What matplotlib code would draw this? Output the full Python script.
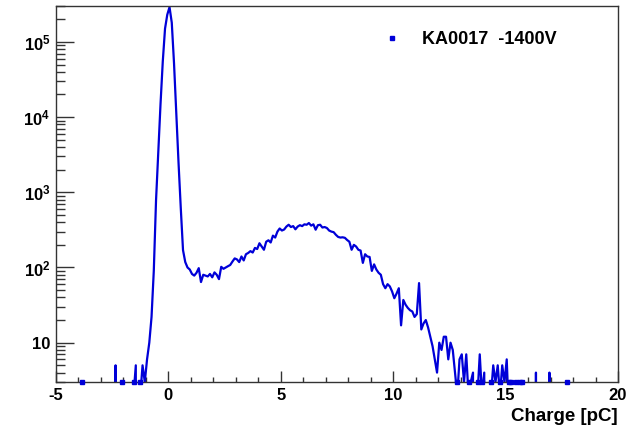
import numpy as np
import matplotlib.pyplot as plt
from matplotlib.ticker import LogLocator, FuncFormatter, MultipleLocator, NullFormatter
from matplotlib.lines import Line2D

plt.rcParams['font.family'] = ['Liberation Sans', 'DejaVu Sans']
plt.rcParams['font.weight'] = 'bold'
plt.rcParams['mathtext.fontset'] = 'custom'
plt.rcParams['mathtext.rm'] = 'Liberation Sans:bold'
plt.rcParams['mathtext.bf'] = 'Liberation Sans:bold'

# histogram: 250 bins of 0.1 pC from -5 to 20
x_lo, x_hi, nbins = -5.0, 20.0, 250
counts = [
    0, 0, 0, 0, 0, 0, 0, 0, 0, 0,                                   # -5.0 .. -4.0
    0, 1, 0, 0, 0, 0, 0, 0, 0, 0,                                   # -4.0 .. -3.0
    0, 0, 0, 0, 0, 0, 5, 0, 0, 1,                                   # -3.0 .. -2.0
    0, 0, 0, 0, 2, 5, 0, 2, 5, 3,                                   # -2.0 .. -1.0
    6, 10, 22, 90, 780, 3500, 15000, 55000, 150000, 230000,         # -1.0 .. 0.0
    290000, 180000, 52000, 11000, 2500, 620, 170, 118, 100, 94,     # 0.0 .. 1.0
    82, 78, 85, 98, 64, 80, 78, 76, 82, 74,                         # 1 .. 2
    86, 80, 70, 102, 96, 100, 104, 108, 120, 132,                   # 2 .. 3
    128, 118, 140, 124, 150, 156, 165, 158, 182, 176,               # 3 .. 4
    210, 190, 172, 220, 230, 215, 265, 250, 300, 330,               # 4 .. 5
    310, 320, 350, 370, 345, 355, 322, 350, 365, 355,               # 5 .. 6
    375, 370, 390, 360, 375, 318, 365, 370, 340, 345,               # 6 .. 7
    335, 310, 300, 295, 272, 255, 250, 252, 248, 232,               # 7 .. 8
    220, 172, 200, 190, 172, 168, 115, 150, 140, 138,               # 8 .. 9
    90, 110, 94, 85, 80, 60, 53, 60, 56, 48,                        # 9 .. 10
    39, 45, 53, 17, 37, 32, 29, 27, 26, 22,                         # 10 .. 11
    24, 62, 15, 18, 20, 16, 12, 9, 6, 4,                            # 11 .. 12
    10, 8, 12, 12, 6, 10, 8, 4, 2, 6,                               # 12 .. 13
    7, 3, 7, 2, 3, 4, 0, 2, 7, 2,                                   # 13 .. 14
    4, 0, 0, 2, 5, 3, 5, 2, 5, 3,                                   # 14 .. 15
    6, 1, 1, 0, 1, 0, 1, 1, 0, 0,                                   # 15 .. 16
    0, 0, 0, 4, 0, 0, 0, 0, 0, 4,                                   # 16 .. 17
    0, 0, 0, 0, 0, 0, 0, 1, 0, 0,                                   # 17 .. 18
    0, 0, 0, 0, 0, 0, 0, 0, 0, 0,                                   # 18 .. 19
    0, 0, 0, 0, 0, 0, 0, 0, 0, 0,                                   # 19 .. 20
]
label = 'KA0017  -1400V'
y_min, y_max = 3, 3e5

counts = np.array(counts, dtype=float)
edges = np.linspace(x_lo, x_hi, nbins + 1)
centers = 0.5 * (edges[:-1] + edges[1:])
blue = '#0000d8'

fig = plt.figure(figsize=(6.43, 4.25), dpi=100)
ax = fig.add_axes([56/643, 1 - 382/425, 562/643, 376/425])

ax.plot(centers, counts, color=blue, lw=1.6)
# bins below the axis minimum show up as small marks on the frame
low = (counts > 0) & (counts < y_min)
ax.plot(centers[low], np.full(low.sum(), y_min), ls='none', marker='s', ms=2.2,
        color=blue, clip_on=False, zorder=3)

ax.set_yscale('log')
ax.set_xlim(x_lo, x_hi)
ax.set_ylim(y_min, y_max)

ax.xaxis.set_major_locator(MultipleLocator(5))
ax.xaxis.set_minor_locator(MultipleLocator(1))
ax.yaxis.set_major_locator(LogLocator(base=10))
ax.yaxis.set_minor_locator(LogLocator(base=10, subs=np.arange(2, 10)))
ax.yaxis.set_minor_formatter(NullFormatter())


def ylab(v, pos):
    n = int(round(np.log10(v)))
    if n == 1:
        return '10'
    return r'$\mathbf{10^{%d}}$' % n


ax.yaxis.set_major_formatter(FuncFormatter(ylab))
ax.xaxis.set_major_formatter(FuncFormatter(lambda v, p: '%d' % v))

ax.tick_params(axis='x', which='major', direction='in', length=8, width=1, labelsize=12, pad=4)
ax.tick_params(axis='x', which='minor', direction='in', length=3.8, width=1)
ax.tick_params(axis='y', which='major', direction='in', length=13, width=1, labelsize=12, pad=4)
ax.tick_params(axis='y', which='minor', direction='in', length=6.5, width=1)
ax.tick_params(top=False, right=False, which='both', color='#333333')
for s in ax.spines.values():
    s.set_linewidth(1)
    s.set_color('#333333')

ax.set_xlabel('Charge [pC]', fontsize=13.5, fontweight='bold', loc='right', labelpad=4)

handle = Line2D([], [], ls='none', marker='s', ms=2.2, color=blue)
ax.legend([handle], [label], loc='center left', bbox_to_anchor=(0.5813, 0.9096),
          frameon=False, handlelength=1.0, handletextpad=1.2,
          borderpad=0, borderaxespad=0, prop={'weight': 'bold', 'size': 13})

fig.savefig('out.png', dpi=100)
